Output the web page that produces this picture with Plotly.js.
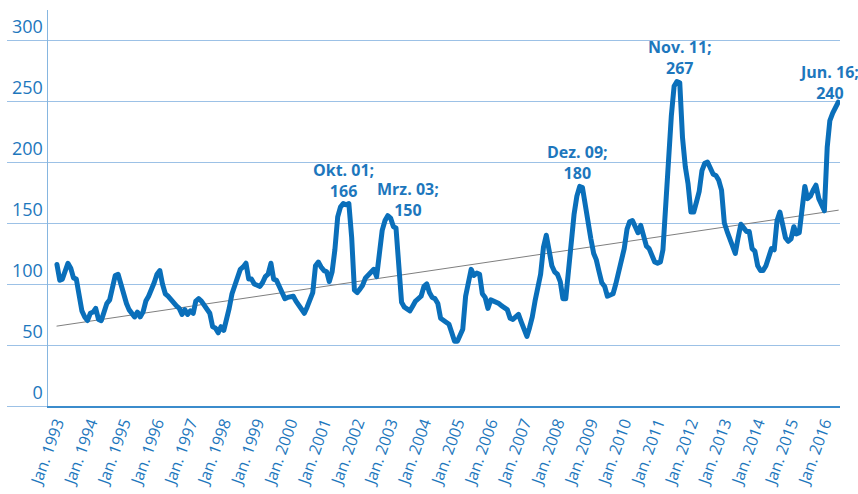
<!DOCTYPE html>
<html>
<head>
<meta charset="utf-8">
<script src="https://cdn.plot.ly/plotly-3.0.1.min.js"></script>
<style>
  html, body { margin: 0; padding: 0; background: #fff; }
  #chart { width: 858px; height: 494px; }
  .scatterlayer .js-line { stroke-linejoin: round; stroke-linecap: round; }
</style>
</head>
<body>
<div id="chart"></div>
<script>
// ---- data (monthly index, Jan. 1993 – Jun. 2016) ----
const startYear = 1993;
const indexValues = [
  116,103,104,110,117,113,105,104, 90, 78, 73, 70,   // 1993
   76, 77, 80, 71, 70, 78, 84, 87,100,107,108, 99,   // 1994
   90, 84, 79, 75, 73, 77, 73, 77, 86, 90, 95,101,   // 1995
  108,111,100, 92, 90, 87, 84, 82, 80, 75, 79, 75,   // 1996
   78, 76, 86, 88, 86, 83, 79, 76, 65, 64, 60, 65,   // 1997
   62, 70, 80, 92, 99,108,112,114,117,104,104,100,   // 1998
   99, 98,101,106,108,117,104,103, 98, 94, 88, 89,   // 1999
   89, 90, 86, 82, 80, 76, 81, 86, 93,115,118,114,   // 2000
  111,110,102,110,128,155,163,166,165,166,138, 95,   // 2001
   93, 96, 99,105,107,110,112,106,122,144,152,156,   // 2002
  154,147,146,115, 85, 81, 79, 78, 82, 86, 88, 90,   // 2003
   98,100, 93, 89, 88, 84, 72, 70, 68, 67, 60, 53,   // 2004
   53, 58, 63, 90,100,112,107,109,108, 92, 89, 80,   // 2005
   87, 86, 86, 84, 82, 81, 79, 72, 71, 73, 75, 69,   // 2006
   63, 57, 64, 73, 86, 96,108,130,140,128,115,110,   // 2007
  108,102, 88, 88,112,140,157,172,180,179,163,148,   // 2008
  137,125,120,110,101, 98, 90, 91, 92,100,110,120,   // 2009
  129,145,151,152,146,142,148,140,131,129,124,118,   // 2010
  117,118,128,169,199,238,262,266,265,220,196,182,   // 2011
  159,159,167,176,193,199,200,194,190,189,185,177,   // 2012
  150,143,138,131,125,138,149,146,143,143,129,127,   // 2013
  115,111,111,115,122,129,128,152,159,150,138,135,   // 2014
  137,147,141,142,162,180,170,172,177,181,170,165,   // 2015
  160,212,234,240,245,249                            // 2016
];
// linear trend (start / end value)
const trendValues = [65.5, 160.5];

const tickYears = [];
for (let y = 1993; y <= 2016; y++) tickYears.push(y);
const yTicks = [0, 50, 100, 150, 200, 250, 300];

// callouts: [date, label, height]
const callouts = [
  ['2001-08-01', 'Okt. 01;<br>166', 185],
  ['2003-07-10', 'Mrz. 03;<br>150', 169],
  ['2008-08-13', 'Dez. 09;<br>180', 200],
  ['2011-09-04', 'Nov. 11;<br>267', 286],
  ['2016-02-19', 'Jun. 16;<br>240', 265]
];

// ---- build ----
const pad = n => (n < 10 ? '0' + n : '' + n);
const dates = indexValues.map((v, i) => {
  const y = startYear + Math.floor(i / 12);
  const m = (i % 12) + 1;
  return y + '-' + pad(m) + '-01';
});

const blue = '#0a6fba';
const textBlue = '#1d77bd';
const grid = '#9cc1e6';

const traces = [
  {
    x: [dates[0], dates[dates.length - 1]],
    y: trendValues,
    mode: 'lines',
    line: { color: '#7f7f7f', width: 1 },
    hoverinfo: 'skip',
    showlegend: false
  },
  {
    x: dates,
    y: indexValues,
    mode: 'lines',
    line: { color: blue, width: 5 },
    showlegend: false
  }
];

const layout = {
  width: 858,
  height: 494,
  margin: { l: 48, r: 18, t: 10, b: 88 },
  paper_bgcolor: '#ffffff',
  plot_bgcolor: '#ffffff',
  font: { family: 'Open Sans, sans-serif', color: textBlue },
  showlegend: false,
  xaxis: {
    type: 'date',
    range: ['1992-09-25', '2016-06-20'],
    tickvals: tickYears.map(y => y + '-01-01'),
    ticktext: tickYears.map(y => 'Jan. ' + y),
    tickangle: -70,
    tickfont: { size: 16, color: textBlue },
    showgrid: false,
    zeroline: false,
    showline: true,
    linecolor: '#3b8ccc',
    linewidth: 1.5,
    ticks: ''
  },
  yaxis: {
    range: [0, 324.6],
    tickvals: yTicks,
    ticktext: yTicks.map(String),
    tickfont: { size: 18, color: textBlue },
    showgrid: true,
    gridcolor: grid,
    gridwidth: 1,
    zeroline: false,
    showline: true,
    linecolor: '#86b6e0',
    linewidth: 1.5,
    ticks: 'outside',
    ticklen: 40,
    tickwidth: 1,
    tickcolor: grid,
    ticklabelposition: 'outside top',
    ticklabelstandoff: 0
  },
  annotations: callouts.map(c => ({
    x: c[0],
    y: c[2],
    xref: 'x',
    yref: 'y',
    text: '<b>' + c[1] + '</b>',
    showarrow: false,
    align: 'center',
    xanchor: 'center',
    yanchor: 'middle',
    font: { size: 16, color: textBlue, family: 'Open Sans, sans-serif' }
  }))
};

Plotly.newPlot('chart', traces, layout, { displayModeBar: false, staticPlot: true });
</script>
</body>
</html>
